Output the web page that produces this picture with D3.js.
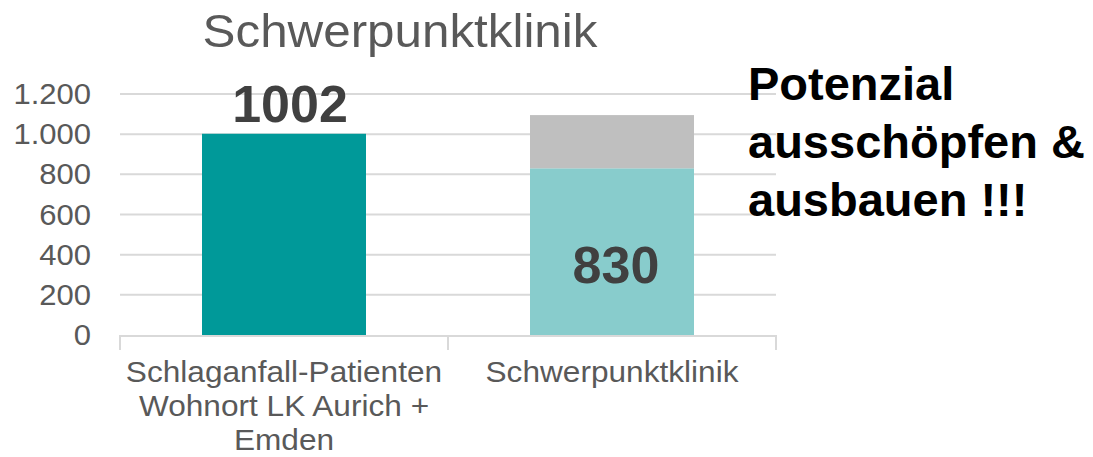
<!DOCTYPE html>
<html>
<head>
<meta charset="utf-8">
<script src="https://cdn.jsdelivr.net/npm/d3@7"></script>
<style>
  body { margin: 0; background: #fff; }
  text { font-family: "Liberation Sans", Arial, sans-serif; }
</style>
</head>
<body>
<script>
'use strict';

// data
const categories = ['Schlaganfall-Patienten Wohnort LK Aurich + Emden', 'Schwerpunktklinik'];
const categoryLines = [['Schlaganfall-Patienten', 'Wohnort LK Aurich +', 'Emden'], ['Schwerpunktklinik']];
const baseValues = [1002, 830];
const potentialValues = [0, 265];
const baseColors = ['#009999', '#88CCCC'];
const yTicks = [0, 200, 400, 600, 800, 1000, 1200];
const chartTitle = 'Schwerpunktklinik';
const noteLines = ['Potenzial', 'ausschöpfen &', 'ausbauen !!!'];

const width = 1093, height = 457;
const plot = { left: 120, right: 776, top: 94, bottom: 335 };

const svg = d3.select('body').append('svg')
  .attr('width', width)
  .attr('height', height);

const de = d3.formatLocale({ decimal: ',', thousands: '.', grouping: [3], currency: ['', ' €'] });
const fmt = de.format(',');

const x = d3.scaleBand()
  .domain(categories)
  .range([plot.left, plot.right])
  .paddingInner(0.5)
  .paddingOuter(0.25);

const y = d3.scaleLinear()
  .domain([0, 1200])
  .range([plot.bottom, plot.top]);

// gridlines
svg.append('g')
  .selectAll('line')
  .data(yTicks.filter(d => d > 0))
  .enter().append('line')
  .attr('x1', plot.left).attr('x2', plot.right)
  .attr('y1', d => y(d)).attr('y2', d => y(d))
  .attr('stroke', '#D9D9D9')
  .attr('stroke-width', 2);

// y tick labels (the original text is a bit wider, so stretch it)
svg.append('g')
  .attr('transform', 'translate(91,0) scale(1.07,1)')
  .selectAll('text')
  .data(yTicks)
  .enter().append('text')
  .attr('x', 0)
  .attr('y', d => y(d))
  .attr('dy', '0.35em')
  .attr('text-anchor', 'end')
  .attr('fill', '#595959')
  .style('font-size', '29px')
  .text(d => fmt(d));

// bars: base + stacked potential
const bars = svg.append('g');
bars.selectAll('rect.base')
  .data(categories)
  .enter().append('rect')
  .attr('class', 'base')
  .attr('x', d => x(d))
  .attr('width', x.bandwidth())
  .attr('y', (d, i) => y(baseValues[i]))
  .attr('height', (d, i) => y(0) - y(baseValues[i]))
  .attr('fill', (d, i) => baseColors[i]);

bars.selectAll('rect.pot')
  .data(categories)
  .enter().append('rect')
  .attr('class', 'pot')
  .attr('x', d => x(d))
  .attr('width', x.bandwidth())
  .attr('y', (d, i) => y(baseValues[i] + potentialValues[i]))
  .attr('height', (d, i) => y(baseValues[i]) - y(baseValues[i] + potentialValues[i]))
  .attr('fill', '#BFBFBF');

// x axis line and category separators
const step = x.step();
const axis = svg.append('g');
axis.append('line')
  .attr('x1', plot.left).attr('x2', plot.right)
  .attr('y1', plot.bottom + 1).attr('y2', plot.bottom + 1)
  .attr('stroke', '#D9D9D9').attr('stroke-width', 2);
axis.selectAll('line.tick')
  .data(d3.range(categories.length + 1))
  .enter().append('line')
  .attr('class', 'tick')
  .attr('x1', i => plot.left + i * step).attr('x2', i => plot.left + i * step)
  .attr('y1', plot.bottom).attr('y2', plot.bottom + 15)
  .attr('stroke', '#D9D9D9').attr('stroke-width', 2);

// category labels
categories.forEach((c, i) => {
  svg.append('g')
    .attr('transform', `translate(${x(c) + x.bandwidth() / 2},0) scale(1.09,1)`)
    .append('text')
    .attr('text-anchor', 'middle')
    .attr('fill', '#595959')
    .style('font-size', '29px')
    .selectAll('tspan')
    .data(categoryLines[i])
    .enter().append('tspan')
    .attr('x', 0)
    .attr('y', (d, j) => 382 + j * 34)
    .text(d => d);
});

// value labels
svg.append('text')
  .attr('x', x(categories[0]) + x.bandwidth() / 2 + 6)
  .attr('y', y(baseValues[0]) - 12)
  .attr('text-anchor', 'middle')
  .attr('fill', '#404040')
  .style('font-size', '52px')
  .style('font-weight', 'bold')
  .text(baseValues[0]);

svg.append('text')
  .attr('x', x(categories[1]) + x.bandwidth() / 2 + 4)
  .attr('y', y(baseValues[1] / 2) + 31)
  .attr('text-anchor', 'middle')
  .attr('fill', '#404040')
  .style('font-size', '52px')
  .style('font-weight', 'bold')
  .text(baseValues[1]);

// title
svg.append('g')
  .attr('transform', 'translate(400,0) scale(1.05,1)')
  .append('text')
  .attr('x', 0)
  .attr('y', 47)
  .attr('text-anchor', 'middle')
  .attr('fill', '#595959')
  .style('font-size', '47px')
  .text(chartTitle);

// note on the right
svg.append('text')
  .attr('fill', '#000')
  .style('font-size', '47px')
  .style('font-weight', 'bold')
  .selectAll('tspan')
  .data(noteLines)
  .enter().append('tspan')
  .attr('x', 748)
  .attr('y', (d, i) => 100 + i * 58)
  .text(d => d);
</script>
</body>
</html>
